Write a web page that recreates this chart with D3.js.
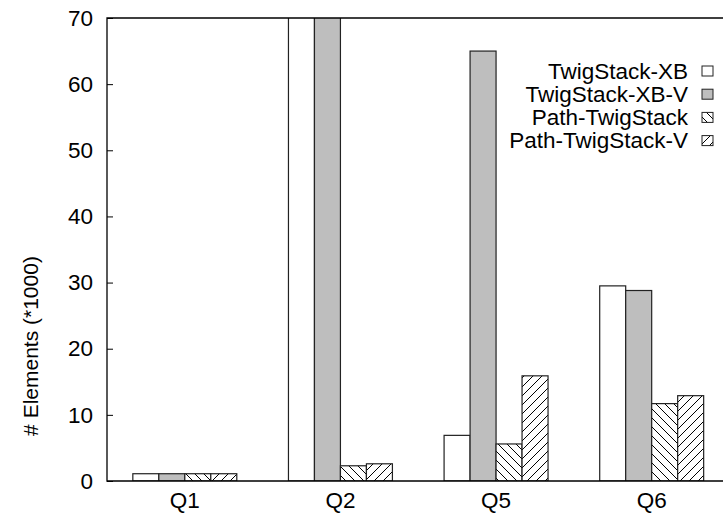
<!DOCTYPE html>
<html>
<head>
<meta charset="utf-8">
<script src="https://cdn.jsdelivr.net/npm/d3@7"></script>
<style>
  html, body { margin: 0; padding: 0; background: #fff; }
  svg { display: block; }
  text { font-family: "Liberation Sans", Arial, Helvetica, sans-serif; fill: #000; }
</style>
</head>
<body>
<svg id="chart" width="723" height="522"></svg>
<script>
// Queries on the x axis
const categories = ["Q1", "Q2", "Q5", "Q6"];
// Algorithms, one bar per query each
const seriesNames = ["TwigStack-XB", "TwigStack-XB-V", "Path-TwigStack", "Path-TwigStack-V"];
// Number of elements read (*1000), one value per query
const twigStackXB   = [1.1, 120, 6.9, 29.5];
const twigStackXBV  = [1.1, 120, 65.0, 28.8];
const pathTwig      = [1.1, 2.3, 5.6, 11.7];
const pathTwigV     = [1.1, 2.6, 15.9, 12.9];
const yTicks = [0, 10, 20, 30, 40, 50, 60, 70];

const seriesValues = [twigStackXB, twigStackXBV, pathTwig, pathTwigV];

const svg = d3.select("#chart");
const plot = { left: 107, right: 729.5, top: 18, bottom: 481 };
const FONT = 22.5;

// Fill patterns: plain white, solid gray, "\" hatching, "/" hatching
const defs = svg.append("defs");
function hatch(id, dir) {
  const p = defs.append("pattern")
    .attr("id", id)
    .attr("patternUnits", "userSpaceOnUse")
    .attr("width", 9).attr("height", 9);
  p.append("rect").attr("width", 9).attr("height", 9).attr("fill", "#fff");
  const segs = dir === "back"
    ? [[-1, -1, 10, 10], [-10, -1, 1, 10], [8, -1, 19, 10]]
    : [[-1, 10, 10, -1], [-10, 10, 1, -1], [8, 10, 19, -1]];
  segs.forEach(s => p.append("line")
    .attr("x1", s[0]).attr("y1", s[1]).attr("x2", s[2]).attr("y2", s[3])
    .attr("stroke", "#000").attr("stroke-width", 1));
}
hatch("hatchBack", "back");
hatch("hatchFwd", "fwd");
const fills = ["#ffffff", "#bebebe", "url(#hatchBack)", "url(#hatchFwd)"];

defs.append("clipPath").attr("id", "plotClip")
  .append("rect")
  .attr("x", plot.left).attr("y", plot.top)
  .attr("width", plot.right - plot.left).attr("height", plot.bottom - plot.top);

const x = d3.scaleBand()
  .domain(categories)
  .range([plot.left, plot.right])
  .paddingInner(0.332)
  .paddingOuter(0.166);

const xs = d3.scaleBand()
  .domain(seriesNames)
  .range([0, x.bandwidth()])
  .padding(0);

const y = d3.scaleLinear().domain([0, 70]).range([plot.bottom, plot.top]);

// Bars
const barsG = svg.append("g").attr("clip-path", "url(#plotClip)");
seriesNames.forEach((name, si) => {
  barsG.selectAll(null)
    .data(categories.map((c, ci) => ({ c, v: seriesValues[si][ci] })))
    .join("rect")
    .attr("x", d => x(d.c) + xs(name))
    .attr("y", d => y(d.v))
    .attr("width", xs.bandwidth())
    .attr("height", d => y(0) - y(d.v))
    .attr("fill", fills[si])
    .attr("stroke", "#222")
    .attr("stroke-width", 1.2);
});

// Y axis with inward ticks
const yAxis = svg.append("g")
  .attr("transform", `translate(${plot.left},0)`)
  .call(d3.axisLeft(y).tickValues(yTicks).tickSize(-6).tickPadding(14).tickSizeOuter(0));
yAxis.select(".domain").remove();
yAxis.selectAll("line").attr("stroke", "#000");
yAxis.selectAll("text").style("font-size", FONT + "px");

// Mirrored ticks on the right border
const yAxisR = svg.append("g")
  .attr("transform", `translate(${plot.right},0)`)
  .call(d3.axisRight(y).tickValues(yTicks).tickSize(-6).tickFormat(""));
yAxisR.select(".domain").remove();
yAxisR.selectAll("line").attr("stroke", "#000");

// X axis labels
const xAxis = svg.append("g")
  .attr("transform", `translate(0,${plot.bottom})`)
  .call(d3.axisBottom(x).tickSize(0).tickPadding(11));
xAxis.select(".domain").remove();
xAxis.selectAll("text").style("font-size", FONT + "px");

// Plot border
svg.append("path")
  .attr("d", `M${plot.right},${plot.top}H${plot.left}V${plot.bottom}H${plot.right}Z`)
  .attr("fill", "none").attr("stroke", "#000").attr("stroke-width", 1.3);

// Y axis title
svg.append("text")
  .attr("transform", "translate(38,346) rotate(-90)")
  .attr("text-anchor", "middle")
  .style("font-size", "21px")
  .text("# Elements (*1000)");

// Legend
const legend = svg.append("g");
seriesNames.forEach((name, i) => {
  const yy = 71 + i * 23.2;
  legend.append("text")
    .attr("x", 688).attr("y", yy)
    .attr("dy", "0.35em")
    .attr("text-anchor", "end")
    .style("font-size", FONT + "px")
    .text(name);
  legend.append("rect")
    .attr("x", 702).attr("y", yy - 5)
    .attr("width", 11).attr("height", 10)
    .attr("fill", fills[i])
    .attr("stroke", "#222").attr("stroke-width", 1);
});
</script>
</body>
</html>
